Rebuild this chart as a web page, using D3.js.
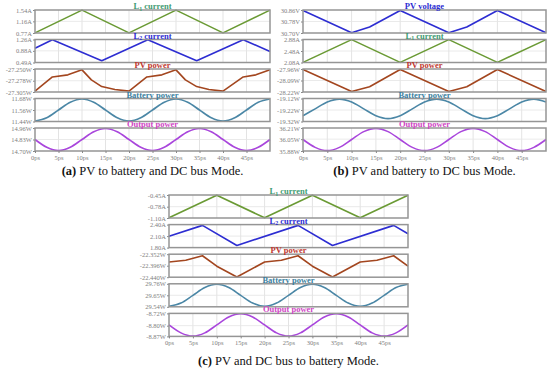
<!DOCTYPE html>
<html>
<head>
<meta charset="utf-8">
<script src="https://cdn.jsdelivr.net/npm/d3@7"></script>
<style>
  body { margin: 0; background: #fff; }
  svg { display: block; }
</style>
</head>
<body>
<svg id="chart" width="550" height="372"></svg>
<script>
// time axis (ps)
const timeTicks = [0, 5, 10, 15, 20, 25, 30, 35, 40, 45];
const tSteps = [0, 2.5, 5, 7.5, 10, 12.5, 15, 17.5, 20, 22.5, 25, 27.5, 30, 32.5, 35, 37.5, 40, 42.5, 45, 47.5, 50];

// (a) PV to battery and DC bus
const aTitles = ['L1 current', 'L2 current', 'PV power', 'Battery power', 'Output power'];
const aTicks = [
  ['1.54A', '1.16A', '0.77A'],
  ['1.26A', '0.88A', '0.49A'],
  ['-27.250W', '-27.278W', '-27.305W'],
  ['11.68W', '11.56W', '11.44W'],
  ['14.96W', '14.83W', '14.70W']
];
const aL1 = [[0, 0.775], [10, 1.535], [20, 0.775], [30, 1.535], [40, 0.775], [50, 1.535]];
const aL2 = [[0, 0.97], [3.7, 1.25], [14.2, 0.55], [24, 1.25], [34.4, 0.55], [44.3, 1.25], [50, 0.86]];
const aPV = [[0, -27.303], [3.7, -27.269], [7, -27.264], [10, -27.252], [12, -27.276], [14.2, -27.292], [17, -27.299], [20, -27.303],
  [23.8, -27.269], [27, -27.264], [30, -27.252], [32, -27.276], [34.4, -27.292], [37, -27.299], [40, -27.303],
  [44.3, -27.269], [47, -27.264], [50, -27.252]];
const aBat = [11.445, 11.479, 11.56, 11.641, 11.675, 11.641, 11.56, 11.479, 11.445, 11.479, 11.56,
  11.641, 11.675, 11.641, 11.56, 11.479, 11.445, 11.479, 11.56, 11.641, 11.675];
const aOut = [14.83, 14.742, 14.705, 14.742, 14.83, 14.918, 14.955, 14.918, 14.83, 14.742, 14.705,
  14.742, 14.83, 14.918, 14.955, 14.918, 14.83, 14.742, 14.705, 14.742, 14.83];

// (b) PV and battery to DC bus
const bTitles = ['PV voltage', 'L1 current', 'PV power', 'Battery power', 'Output power'];
const bTicks = [
  ['30.86V', '30.78V', '30.70V'],
  ['2.88A', '2.48A', '2.08A'],
  ['-27.96W', '-28.09W', '-28.22W'],
  ['-19.12W', '-19.22W', '-19.32W'],
  ['36.21W', '36.05W', '35.88W']
];
const bPVV = [[0, 30.857], [10, 30.702], [13.7, 30.742], [20, 30.857], [30, 30.702], [33.7, 30.742], [40, 30.857], [50, 30.702]];
const bL1 = [[0, 2.085], [10, 2.875], [20, 2.085], [30, 2.875], [40, 2.085], [50, 2.875]];
const bPV = [[0, -27.966], [10, -28.215], [13.7, -28.16], [20, -27.966], [30, -28.215], [33.7, -28.16], [40, -27.966], [50, -28.215]];
const bBat = [-19.27, -19.21, -19.15, -19.125, -19.15, -19.21, -19.27, -19.295, -19.27, -19.21, -19.15,
  -19.125, -19.15, -19.21, -19.27, -19.295, -19.27, -19.21, -19.15, -19.125, -19.15];
const bOut = [36.045, 35.932, 35.885, 35.932, 36.045, 36.158, 36.205, 36.158, 36.045, 35.932, 35.885,
  35.932, 36.045, 36.158, 36.205, 36.158, 36.045, 35.932, 35.885, 35.932, 36.045];

// (c) PV and DC bus to battery
const cTitles = ['L1 current', 'L2 current', 'PV power', 'Battery power', 'Output power'];
const cTicks = [
  ['-0.45A', '-0.78A', '-1.10A'],
  ['2.40A', '2.10A', '1.80A'],
  ['-22.352W', '-22.396W', '-22.440W'],
  ['29.76W', '29.65W', '29.54W'],
  ['-8.72W', '-8.80W', '-8.87W']
];
const cL1 = [[0, -1.095], [10, -0.455], [20, -1.095], [30, -0.455], [40, -1.095], [50, -0.455]];
const cL2 = [[0, 2.095], [7, 2.38], [14.2, 1.855], [27, 2.38], [34.2, 1.855], [47, 2.38], [50, 2.16]];
const cPV = [[0, -22.382], [3.5, -22.375], [7, -22.358], [10, -22.398], [14.2, -22.439], [20, -22.382],
  [23.5, -22.375], [27, -22.358], [30, -22.398], [34.2, -22.439], [40, -22.382],
  [43.5, -22.375], [47, -22.358], [50, -22.398]];
const cBat = [29.545, 29.576, 29.65, 29.724, 29.755, 29.724, 29.65, 29.576, 29.545, 29.576, 29.65,
  29.724, 29.755, 29.724, 29.65, 29.576, 29.545, 29.576, 29.65, 29.724, 29.755];
const cOut = [-8.795, -8.847, -8.868, -8.847, -8.795, -8.743, -8.722, -8.743, -8.795, -8.847, -8.868,
  -8.847, -8.795, -8.743, -8.722, -8.743, -8.795, -8.847, -8.868, -8.847, -8.795];

const captions = [
  ['(a)', ' PV to battery and DC bus Mode.'],
  ['(b)', ' PV and battery to DC bus Mode.'],
  ['(c)', ' PV and DC bus to battery Mode.']
];

const serif = '"Liberation Serif", "Times New Roman", serif';
const lineColor = {
  'L1 current': '#6a9a34', 'L2 current': '#2d2dd2', 'PV power': '#a3461f',
  'Battery power': '#4b87a6', 'Output power': '#a946dc', 'PV voltage': '#2d2dd2'
};
const titleColor = {
  'L1 current': '#3f9c72', 'L2 current': '#2d2dd2', 'PV power': '#c0392f',
  'Battery power': '#3b7fa0', 'Output power': '#cf45c4', 'PV voltage': '#2d2dd2'
};

const pairs = vals => vals.map((v, i) => [tSteps[i], v]);

const panels = [
  { left: 35, right: 270, top: 10, gap: 29.5, titles: aTitles, ticks: aTicks,
    series: [aL1, aL2, aPV, pairs(aBat), pairs(aOut)], smooth: [0, 0, 0, 1, 1], cap: captions[0], capY: 175 },
  { left: 303, right: 546, top: 10, gap: 29.5, titles: bTitles, ticks: bTicks,
    series: [bPVV, bL1, bPV, pairs(bBat), pairs(bOut)], smooth: [0, 0, 0, 1, 1], cap: captions[1], capY: 175 },
  { left: 169, right: 408, top: 195, gap: 29.6, titles: cTitles, ticks: cTicks,
    series: [cL1, cL2, cPV, pairs(cBat), pairs(cOut)], smooth: [0, 0, 0, 1, 1], cap: captions[2], capY: 365 }
];

const svg = d3.select('#chart');
const rowH = 23;

const drawPanel = p => {
  const x = d3.scaleLinear().domain([0, 50]).range([p.left, p.right]);
  const mid = (p.left + p.right) / 2;
  let bottom = 0;

  p.titles.forEach((title, i) => {
    const top = p.top + i * p.gap;
    bottom = top + rowH;
    const labels = p.ticks[i];
    const vals = labels.map(parseFloat);
    const y = d3.scaleLinear().domain([vals[2], vals[0]]).range([bottom, top]);
    const g = svg.append('g');

    // grid
    g.selectAll('.vgrid')
      .data(timeTicks.slice(1))
      .join('line')
      .attr('x1', d => x(d)).attr('x2', d => x(d))
      .attr('y1', top).attr('y2', bottom)
      .attr('stroke', '#dcdcdc').attr('stroke-width', 0.8);
    g.append('line')
      .attr('x1', p.left).attr('x2', p.right)
      .attr('y1', y(vals[1])).attr('y2', y(vals[1]))
      .attr('stroke', '#e4e4e4').attr('stroke-width', 0.8);

    // y axis
    const yAxis = d3.axisLeft(y)
      .tickValues(vals)
      .tickSize(2)
      .tickPadding(1)
      .tickFormat((d, j) => labels[j]);
    const ay = g.append('g').attr('transform', `translate(${p.left},0)`).call(yAxis);
    ay.select('.domain').remove();
    ay.selectAll('line').attr('stroke', '#888');
    ay.selectAll('text')
      .attr('fill', '#808080')
      .style('font', `6.5px ${serif}`);

    // curve
    g.append('path')
      .datum(p.series[i])
      .attr('fill', 'none')
      .attr('stroke', lineColor[title])
      .attr('stroke-width', 1.6)
      .attr('stroke-linejoin', 'round')
      .attr('d', d3.line()
        .x(d => x(d[0]))
        .y(d => y(d[1]))
        .curve(p.smooth[i] ? d3.curveMonotoneX : d3.curveLinear));

    // frame
    g.append('rect')
      .attr('x', p.left).attr('y', top)
      .attr('width', p.right - p.left).attr('height', rowH)
      .attr('fill', 'none')
      .attr('stroke', '#959595')
      .attr('stroke-width', 1.5);

    // title, with subscript for L1 / L2
    const t = g.append('text')
      .attr('x', mid).attr('y', top - 1)
      .attr('text-anchor', 'middle')
      .attr('fill', titleColor[title])
      .style('font', `bold 8.5px ${serif}`);
    const m = title.match(/^L(\d)(.*)$/);
    if (m) {
      t.append('tspan').text('L');
      t.append('tspan').attr('dy', 1.5).style('font-size', '6px').text(m[1]);
      t.append('tspan').attr('dy', -1.5).text(m[2]);
    } else {
      t.text(title);
    }
  });

  // x axis under last row
  const xAxis = d3.axisBottom(x)
    .tickValues(timeTicks)
    .tickSize(2)
    .tickPadding(2)
    .tickFormat(d => `${d}ps`);
  const ax = svg.append('g').attr('transform', `translate(0,${bottom})`).call(xAxis);
  ax.select('.domain').remove();
  ax.selectAll('line').attr('stroke', '#888');
  ax.selectAll('text')
    .attr('fill', '#808080')
    .style('font', `6.5px ${serif}`);

  // caption
  const c = svg.append('text')
    .attr('x', mid).attr('y', p.capY)
    .attr('text-anchor', 'middle')
    .attr('fill', '#111')
    .style('font', `12.5px ${serif}`);
  c.append('tspan').style('font-weight', 'bold').text(p.cap[0]);
  c.append('tspan').text(p.cap[1]);
};

panels.forEach(drawPanel);
</script>
</body>
</html>
